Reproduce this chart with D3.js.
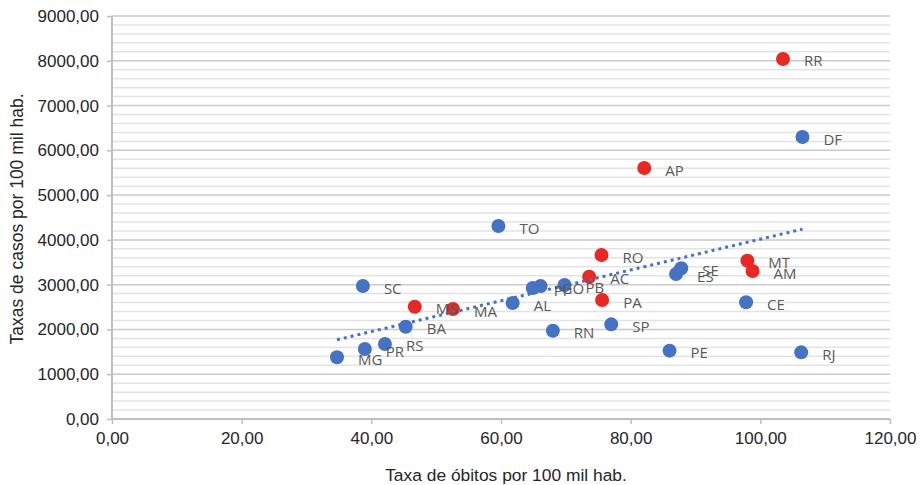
<!DOCTYPE html>
<html><head><meta charset="utf-8">
<script src="https://cdn.jsdelivr.net/npm/d3@7"></script>
<style>body{margin:0;background:#fff}</style>
</head><body>
<svg id="c" width="921" height="485"></svg>
<script>
const redStates = ["RR","AP","RO","MT","AM","AC","MS","MA","PA"];
const redObitos = [103.5, 82.1, 75.5, 98.0, 98.8, 73.6, 46.7, 52.6, 75.6];
const redCasos  = [8040, 5605, 3662, 3536, 3305, 3178, 2508, 2456, 2657];

const blueStates = ["DF","TO","SE","ES","SC","PI","GO","PB","AL","BA","RS","PR","MG","CE","RN","SP","PE","RJ"];
const blueObitos = [106.5, 59.6, 87.8, 87.0, 38.7, 64.9, 66.1, 69.8, 61.8, 45.3, 42.1, 39.0, 34.7, 97.8, 68.0, 77.0, 86.0, 106.3];
const blueCasos  = [6297, 4310, 3365, 3238, 2970, 2925, 2970, 2992, 2590, 2061, 1675, 1563, 1378, 2606, 1972, 2114, 1526, 1489];

const trendObitos = [34.7, 106.5];
const trendCasos = [1770, 4240];

const xTicks = [0, 20, 40, 60, 80, 100, 120];
const yTicks = [0, 1000, 2000, 3000, 4000, 5000, 6000, 7000, 8000, 9000];
const xTitle = "Taxa de óbitos por 100 mil hab.";
const yTitle = "Taxas de casos por 100 mil hab.";

const svg = d3.select("#c");
const L = 112, R = 890, T = 16, B = 419;
const x = d3.scaleLinear().domain([0, 120]).range([L, R]);
const y = d3.scaleLinear().domain([0, 9000]).range([B, T]);
const fmt = v => d3.format(".2f")(v).replace(".", ",");

// minor gridlines
const minor = d3.range(200, 9000, 200).filter(v => v % 1000 !== 0);
svg.append("g").selectAll("line").data(minor).join("line")
  .attr("x1", L).attr("x2", R).attr("y1", d => y(d)).attr("y2", d => y(d))
  .attr("stroke", "#e3e3e3").attr("stroke-width", 1.5);
// major gridlines
svg.append("g").selectAll("line").data(yTicks.filter(v => v > 0)).join("line")
  .attr("x1", L).attr("x2", R).attr("y1", d => y(d)).attr("y2", d => y(d))
  .attr("stroke", "#c9c9c9").attr("stroke-width", 1.5);

// axes
const yAxis = d3.axisLeft(y).tickValues(yTicks).tickFormat(fmt).tickSize(5).tickPadding(8);
const gy = svg.append("g").attr("transform", `translate(${L},0)`).call(yAxis);
const xAxis = d3.axisBottom(x).tickValues(xTicks).tickFormat(fmt).tickSize(5).tickPadding(8);
const gx = svg.append("g").attr("transform", `translate(0,${B})`).call(xAxis);
[gx, gy].forEach(g => {
  g.select(".domain").attr("stroke", "#bfbfbf").attr("stroke-width", 2);
  g.selectAll(".tick line").attr("stroke", "#bfbfbf").attr("stroke-width", 1.5);
  g.selectAll(".tick text").attr("fill", "#262626")
    .style("font-family", "'Liberation Sans', Arial, sans-serif").style("font-size", "17px");
});
gx.select(".domain").attr("d", `M${L},0H${R}`);
gy.select(".domain").attr("d", `M0,${B}V${T}`);

// points
const blue = blueStates.map((s, i) => ({s, x: blueObitos[i], y: blueCasos[i]}));
const red = redStates.map((s, i) => ({s, x: redObitos[i], y: redCasos[i]}));

svg.append("g").selectAll("circle").data(blue).join("circle")
  .attr("cx", d => x(d.x)).attr("cy", d => y(d.y)).attr("r", 7).attr("fill", "#4472c4");
svg.append("g").selectAll("circle").data(red).join("circle")
  .attr("cx", d => x(d.x)).attr("cy", d => y(d.y)).attr("r", 7).attr("fill", "#ea2720");

// trendline
svg.append("line")
  .attr("x1", x(trendObitos[0])).attr("y1", y(trendCasos[0]))
  .attr("x2", x(trendObitos[1])).attr("y2", y(trendCasos[1]))
  .attr("stroke", "#4472c4").attr("stroke-width", 3).attr("stroke-dasharray", "3 4");

// labels
svg.append("g").selectAll("text").data(blue.concat(red)).join("text")
  .attr("x", d => x(d.x) + 21).attr("y", d => y(d.y) + 7.5)
  .text(d => d.s)
  .attr("fill", "#595959")
  .style("font-family", "'Open Sans', sans-serif").style("font-size", "15px");

// titles
svg.append("text").attr("x", 506).attr("y", 481).attr("text-anchor", "middle")
  .text(xTitle).attr("fill", "#262626")
  .style("font-family", "'Liberation Sans', Arial, sans-serif").style("font-size", "17.4px");
svg.append("text").attr("transform", "translate(23,219) rotate(-90)").attr("text-anchor", "middle")
  .text(yTitle).attr("fill", "#262626")
  .style("font-family", "'Liberation Sans', Arial, sans-serif").style("font-size", "17.5px");
</script>
</body></html>
